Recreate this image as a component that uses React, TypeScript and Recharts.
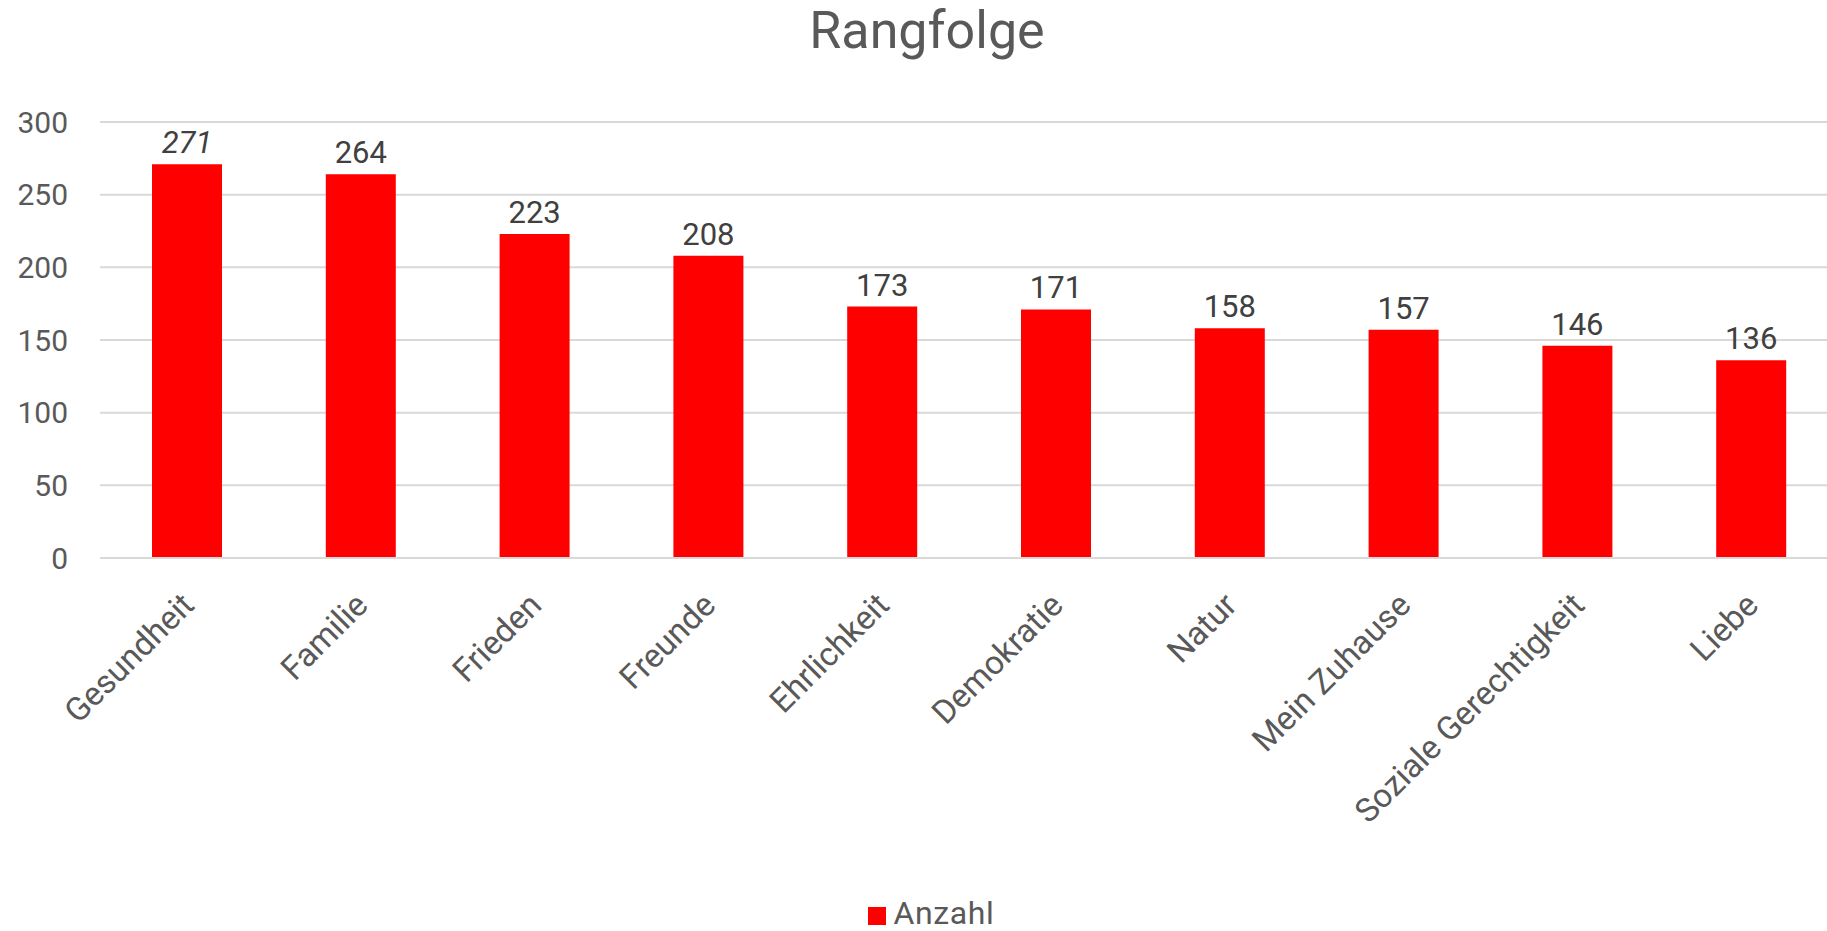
import { BarChart, Bar, XAxis, YAxis, CartesianGrid, Legend } from "recharts";

const categories = [
  "Gesundheit",
  "Familie",
  "Frieden",
  "Freunde",
  "Ehrlichkeit",
  "Demokratie",
  "Natur",
  "Mein Zuhause",
  "Soziale Gerechtigkeit",
  "Liebe",
];
const anzahl = [271, 264, 223, 208, 173, 171, 158, 157, 146, 136];
const yTicks = [0, 50, 100, 150, 200, 250, 300];

const data = categories.map((name, i) => ({ name, Anzahl: anzahl[i] }));

const FONT = "Roboto, 'Liberation Sans', sans-serif";

function XTick({ x, payload }: any) {
  return (
    <g transform={`translate(${x + 9},607)`}>
      <text
        textAnchor="end"
        transform="rotate(-45)"
        fill="#595959"
        style={{ fontSize: 33, fontFamily: FONT }}
      >
        {payload.value}
      </text>
    </g>
  );
}

function ValueLabel({ x, y, width, value, index }: any) {
  return (
    <text
      x={x + width / 2}
      y={y - 11}
      textAnchor="middle"
      fill="#404040"
      style={{
        fontSize: 31,
        fontFamily: FONT,
        fontStyle: index === 0 ? "italic" : "normal",
      }}
    >
      {value}
    </text>
  );
}

function LegendContent() {
  return (
    <div
      style={{
        height: 40,
        display: "flex",
        justifyContent: "center",
        alignItems: "flex-end",
        paddingLeft: 24,
        fontFamily: FONT,
      }}
    >
      <span
        style={{ width: 18, height: 18, background: "#ff0000", marginRight: 8, marginBottom: 6 }}
      />
      <span
        style={{
          fontSize: 32,
          color: "#595959",
          lineHeight: "36px",
          letterSpacing: 0.6,
        }}
      >
        Anzahl
      </span>
    </div>
  );
}

export default function App() {
  return (
    <div
      style={{
        position: "fixed",
        left: 0,
        top: 0,
        width: 1827,
        height: 931,
        overflow: "hidden",
        background: "#fff",
      }}
    >
      <BarChart
        width={1840}
        height={931}
        data={data}
        margin={{ top: 122, right: 2, bottom: 0, left: 0 }}
      >
        <text
          x={927}
          y={48}
          textAnchor="middle"
          fill="#595959"
          style={{ fontSize: 52, fontFamily: FONT }}
        >
          Rangfolge
        </text>
        <CartesianGrid vertical={false} stroke="#d9d9d9" strokeWidth={2} />
        <XAxis
          dataKey="name"
          interval={0}
          height={333}
          tickLine={false}
          tickSize={0}
          tickMargin={0}
          axisLine={{ stroke: "#d9d9d9", strokeWidth: 2 }}
          tick={<XTick />}
        />
        <YAxis
          width={100}
          domain={[0, 300]}
          ticks={yTicks}
          axisLine={false}
          tickLine={false}
          tickSize={0}
          tickMargin={32}
          tick={{ fill: "#595959", fontSize: 30, fontFamily: FONT }}
        />
        <Legend verticalAlign="bottom" content={<LegendContent />} />
        <Bar
          dataKey="Anzahl"
          fill="#ff0000"
          barSize={70}
          isAnimationActive={false}
          label={<ValueLabel />}
        />
      </BarChart>
    </div>
  );
}
